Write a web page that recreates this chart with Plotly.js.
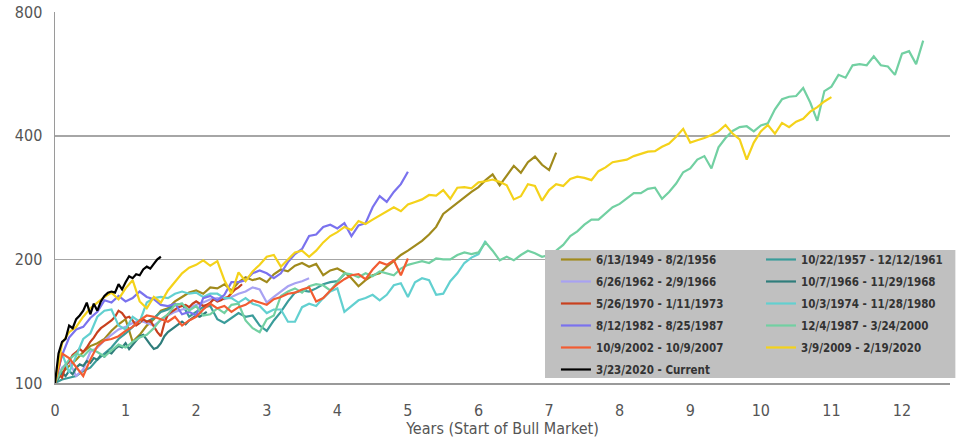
<!DOCTYPE html>
<html>
<head>
<meta charset="utf-8">
<script src="https://cdn.plot.ly/plotly-3.0.1.min.js"></script>
<style>
html,body{margin:0;padding:0;background:#fff;}
#chart{width:961px;height:438px;}
#chart svg text{font-stretch:condensed !important;}
</style>
</head>
<body>
<div id="chart"></div>
<script>
// Index value (start of bull market = 100), sampled at fixed year steps
const names = [
  "6/13/1949 - 8/2/1956", "10/22/1957 - 12/12/1961", "6/26/1962 - 2/9/1966",
  "10/7/1966 - 11/29/1968", "5/26/1970 - 1/11/1973", "10/3/1974 - 11/28/1980",
  "8/12/1982 - 8/25/1987", "12/4/1987 - 3/24/2000", "10/9/2002 - 10/9/2007",
  "3/9/2009 - 2/19/2020", "3/23/2020 - Current"
];
const colors = ["#a08a1c", "#3a9c9a", "#a8a2f2", "#2f7d7b", "#c8401e", "#62d0d0",
  "#7a72ee", "#72d0a2", "#f25c32", "#f4d21a", "#000000"];
const steps = [0.1, 0.1, 0.1, 0.05, 0.05, 0.1, 0.1, 0.1, 0.1, 0.1, 0.05];
const legendColumn = ["legend", "legend2", "legend", "legend2", "legend", "legend2",
  "legend", "legend2", "legend", "legend2", "legend"];

const v1949 = [100,106,110,114,119,123,125,128,134,139,
  143,126,131,138,143,150,152,158,162,166,
  168,165,171,170,174,168,176,181,178,180,
  176,184,189,187,193,196,192,195,183,188,
  190,186,180,172,178,183,185,192,198,205,
  210,216,222,230,240,258,266,275,284,292,
  300,312,322,303,320,338,325,345,356,340,
  330,364];
const v1957 = [100,102,103,104,107,109,114,118,122,128,
  132,137,142,141,144,149,151,155,156,145,
  149,153,154,143,140,144,148,145,146,138,
  134,142,149,158,166,168,167,170,174,176,
  177,184];
const v1962 = [100,109,113,104,108,119,122,127,131,135,
  137,140,142,140,138,142,146,149,151,152,
  155,157,160,161,160,162,165,167,171,169,
  157,162,167,172,175,177,180];
const v1966 = [100,103,106,104,107,105,109,111,110,113,
  112,115,114,117,116,119,118,121,123,122,
  125,121,124,127,130,131,127,124,121,122,
  125,130,133,135,137,139,141,139,142,144,
  146,145,147,149];
const v1970 = [100,105,103,110,113,117,119,121,119,122,
  126,129,133,136,138,140,142,145,150,148,
  144,145,142,138,140,143,141,142,137,133,
  130,140,147,149,151,153,154,155,153,156,
  158,156,154,155,157,160,158,159,161,162,
  166,169,171,174];
const v1974 = [100,118,106,116,128,132,145,150,151,138,
  135,145,141,157,161,162,161,165,167,165,
  166,162,165,165,161,161,157,161,156,154,
  148,151,151,141,141,153,156,154,161,167,
  170,149,154,159,161,164,159,164,173,175,
  162,176,180,178,164,165,177,185,196,202,
  206,222];
const v1982 = [100,117,129,135,137,144,149,159,157,163,
  158,161,167,162,160,155,154,156,147,149,
  146,161,163,159,164,176,176,178,185,188,
  185,180,185,197,206,212,228,230,240,243,
  238,245,228,242,245,268,285,276,292,305,
  327];
const v1987 = [100,108,114,118,116,121,119,116,120,124,
  122,126,129,131,136,143,147,155,156,150,
  154,146,147,152,148,155,156,142,136,133,
  143,146,163,167,170,166,172,174,173,168,
  176,185,184,181,185,182,187,185,183,190,
  194,196,198,196,201,200,200,205,208,206,
  208,220,210,199,203,199,205,210,207,203,
  205,210,217,228,234,243,250,250,259,268,
  273,281,290,290,297,299,281,292,306,326,
  333,350,357,333,375,395,411,420,422,410,
  424,429,464,491,498,500,523,482,435,514,
  527,563,554,594,598,594,625,594,590,563,
  634,643,598,682];
const v2002 = [100,118,115,109,104,114,123,127,128,130,
  134,137,142,146,145,143,141,145,138,142,
  145,151,156,152,154,149,153,155,159,157,
  155,160,162,165,166,169,171,158,161,168,
  174,179,183,184,179,189,197,194,199,183,
  201];
const v2009 = [100,125,133,137,145,152,157,162,166,160,
  170,178,158,152,162,157,168,176,185,191,
  194,199,193,198,178,165,186,177,187,194,
  203,205,192,200,208,210,203,210,220,228,
  233,240,236,248,244,250,256,262,268,262,
  272,276,280,287,286,295,281,299,300,298,
  308,310,313,309,303,280,285,305,302,278,
  295,305,302,314,318,316,312,328,335,345,
  348,350,357,361,366,367,376,383,398,416,
  385,390,395,402,410,425,405,392,350,385,
  410,425,405,430,420,433,440,458,470,485,
  497];
const v2020 = [100,118,126,128,138,136,143,146,150,157,
  147,156,150,158,163,166,167,166,174,169,
  176,182,180,184,183,189,192,190,195,200,
  203];

const series = [v1949, v1957, v1962, v1966, v1970, v1974, v1982, v1987, v2002, v2009, v2020];
const xTicks = [0,1,2,3,4,5,6,7,8,9,10,11,12];
const yTicks = [100,200,400,800];

const narrow = '"Liberation Sans Narrow", "DejaVu Sans", sans-serif';

const traces = series.map((vals, k) => ({
  type: 'scatter',
  mode: 'lines',
  name: names[k],
  legend: legendColumn[k],
  legendgroup: 'g' + k,
  x: vals.map((_, i) => +(i * steps[k]).toFixed(2)),
  y: vals,
  line: {color: colors[k], width: 2.2},
  hoverinfo: 'skip'
}));

const legendFont = {family: narrow, size: 11.5, color: '#333333', weight: 'bold'};
const legendBase = {
  xanchor: 'left', yanchor: 'top',
  bgcolor: 'rgba(0,0,0,0)', borderwidth: 0,
  itemwidth: 30, traceorder: 'grouped', tracegroupgap: 3,
  font: legendFont
};

const layout = {
  width: 961, height: 438,
  margin: {l: 55, r: 11, t: 12, b: 55, autoexpand: false},
  paper_bgcolor: '#ffffff', plot_bgcolor: '#ffffff',
  showlegend: true,
  xaxis: {
    range: [0, 12.68],
    tickvals: xTicks,
    ticktext: xTicks.map(String),
    showgrid: false, zeroline: false,
    showline: true, linecolor: '#9a9a9a', linewidth: 2,
    ticks: 'outside', ticklen: 12, tickcolor: 'rgba(0,0,0,0)',
    tickfont: {family: narrow, size: 16, color: '#555555'},
    title: {text: 'Years (Start of Bull Market)', standoff: 2,
            font: {family: narrow, size: 16, color: '#555555'}}
  },
  yaxis: {
    type: 'log',
    range: [2, Math.log10(800) + 0.0005],
    tickvals: yTicks,
    ticktext: yTicks.map(String),
    showgrid: true, gridcolor: '#a6a6a6', gridwidth: 1.6,
    zeroline: false,
    showline: true, linecolor: '#9a9a9a', linewidth: 1.5,
    ticks: 'outside', ticklen: 8, tickcolor: 'rgba(0,0,0,0)',
    tickfont: {family: narrow, size: 16, color: '#555555'}
  },
  shapes: [{
    type: 'rect', xref: 'paper', yref: 'paper', layer: 'above',
    x0: 0.5475, x1: 1.006, y0: 0.0135, y1: 0.3585,
    fillcolor: '#c0c0c0', line: {width: 0}
  }],
  legend: Object.assign({}, legendBase, {x: 0.5597, y: 0.372}),
  legend2: Object.assign({}, legendBase, {x: 0.7888, y: 0.372})
};

Plotly.newPlot('chart', traces, layout, {staticPlot: true, displayModeBar: false});
</script>
</body>
</html>
